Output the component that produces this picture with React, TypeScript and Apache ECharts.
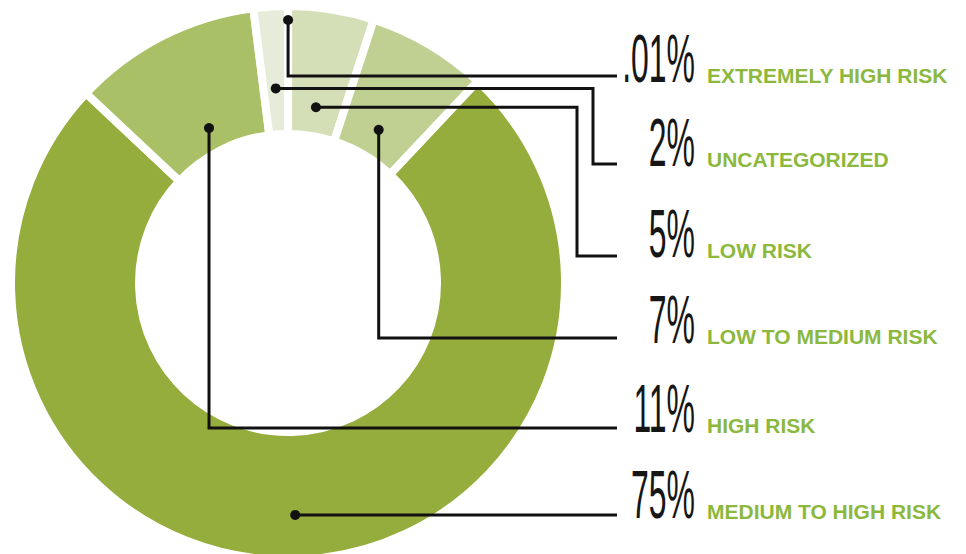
import { useEffect, useRef } from "react";
import * as echarts from "echarts";

// Data (clockwise from 12 o'clock)
const categories = [
  "EXTREMELY HIGH RISK",
  "LOW RISK",
  "LOW TO MEDIUM RISK",
  "MEDIUM TO HIGH RISK",
  "HIGH RISK",
  "UNCATEGORIZED",
];
const values = [0.01, 5, 7, 75, 11, 2];
const percentLabels = [".01%", "5%", "7%", "75%", "11%", "2%"];
const sliceColors = ["#e6ecd9", "#d4dfb7", "#bfd092", "#94ad3d", "#aac067", "#e6ecd9"];

// Label layout (same order as data)
const dotRadius = [263, 178, 178, 232, 174, 195];
const elbowX: (number | null)[] = [null, 577, null, null, null, 593];
const lineY: (number | null)[] = [76, 256, 338, null, 428, 164];
const textBaseline = [82, 257, 343, 518, 432, 166];

const CX = 288;
const CY = 283;
const R_IN = 153;
const R_OUT = 273;
const GAP = 8;
const LINE_END = 617;
const PCT_RIGHT = 695;
const NAME_LEFT = 707;
const PCT_SIZE = 68;
const NAME_SIZE = 21;

export default function App() {
  const ref = useRef<HTMLDivElement>(null);
  useEffect(() => {
    document.body.style.margin = "0";
    const chart = echarts.init(ref.current!, null, { renderer: "svg" });
    const total = values.reduce((a, b) => a + b, 0);
    let acc = 0;
    const graphics: any[] = [];
    values.forEach((v, i) => {
      const mid = ((acc + v / 2) / total) * 2 * Math.PI;
      acc += v;
      const dx = CX + dotRadius[i] * Math.sin(mid);
      const dy = CY - dotRadius[i] * Math.cos(mid);
      const ly = lineY[i] ?? dy;
      const ex = elbowX[i] ?? dx;
      const pts = [
        [dx, dy],
        [ex, dy],
        [ex, ly],
        [LINE_END, ly],
      ];
      graphics.push({
        type: "polyline",
        z: 100,
        shape: { points: pts },
        style: { stroke: "#111", lineWidth: 3, fill: "none", lineJoin: "miter" },
      });
      graphics.push({
        type: "circle",
        z: 101,
        shape: { cx: dx, cy: dy, r: 5 },
        style: { fill: "#111" },
      });
      graphics.push({
        type: "text",
        z: 100,
        x: PCT_RIGHT,
        y: textBaseline[i] - 0.35 * PCT_SIZE,
        scaleX: 0.47,
        style: {
          text: percentLabels[i],
          x: 0,
          y: 0,
          align: "right",
          verticalAlign: "middle",
          fontFamily: "Liberation Sans",
          fontSize: PCT_SIZE,
          fill: "#161616",
          stroke: "#ffffff",
          lineWidth: 1.3,
        },
      });
      graphics.push({
        type: "text",
        z: 100,
        x: NAME_LEFT,
        y: textBaseline[i] + 1 - 0.35 * NAME_SIZE,
        style: {
          text: categories[i],
          x: 0,
          y: 0,
          align: "left",
          verticalAlign: "middle",
          fontFamily: "Liberation Sans",
          fontWeight: "bold",
          fontSize: NAME_SIZE,
          fill: "#8cb83e",
        },
      });
    });

    chart.setOption({
      animation: false,
      backgroundColor: "#ffffff",
      series: [
        {
          type: "pie",
          center: [CX, CY],
          radius: [R_IN - GAP / 2, R_OUT + GAP / 2],
          startAngle: 90,
          clockwise: true,
          silent: true,
          label: { show: false },
          labelLine: { show: false },
          itemStyle: { borderColor: "#ffffff", borderWidth: GAP },
          data: values.map((v, i) => ({
            name: categories[i],
            value: v,
            itemStyle: { color: sliceColors[i] },
          })),
        },
      ],
      graphic: graphics,
    });
    return () => chart.dispose();
  }, []);
  return <div ref={ref} style={{ width: 966, height: 554 }} />;
}
